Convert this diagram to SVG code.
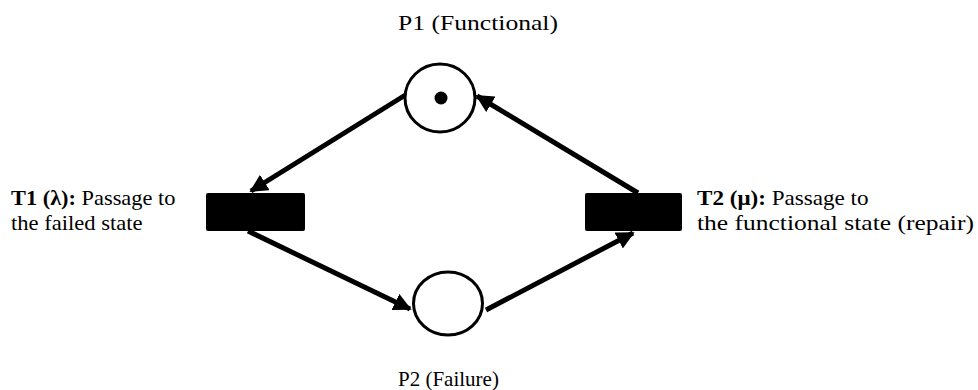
<svg xmlns="http://www.w3.org/2000/svg" width="978" height="390" viewBox="0 0 978 390">
  <style>
    text { font-family: 'Liberation Serif', 'Tinos', 'Noto Serif', 'DejaVu Serif', 'Nimbus Roman', 'FreeSerif', Times, serif; font-weight: 400; font-size: 21px; fill: #000; }
    .b { font-weight: 700; }
    .place { fill: #fff; stroke: #000; stroke-width: 3; }
    .trans { fill: #000; }
    .arc { fill: none; stroke: #000; stroke-width: 5; marker-end: url(#head); }
  </style>
  <defs>
    <marker id="head" viewBox="0 0 10 10" refX="9" refY="5" markerWidth="3.6" markerHeight="3.6" markerUnits="strokeWidth" orient="auto">
      <path d="M0,0 L10,5 L0,10 z" fill="#000"/>
    </marker>
  </defs>

  <!-- arcs of the net -->
  <g id="connectors">
    <line class="arc" x1="407" y1="94" x2="251" y2="191"/>
    <line class="arc" x1="248" y1="231" x2="410" y2="309"/>
    <line class="arc" x1="486" y1="310" x2="633" y2="233"/>
    <line class="arc" x1="638" y1="193" x2="477" y2="96"/>
  </g>

  <!-- places (labels widened horizontally) -->
  <g id="P1">
    <ellipse class="place" cx="440" cy="98" rx="35" ry="34"/>
    <circle cx="441" cy="98" r="6.5" fill="#000"/>
    <text transform="translate(398 30) scale(1.22 1)">P1 (Functional)</text>
  </g>

  <g id="P2">
    <ellipse class="place" cx="448" cy="303.5" rx="34.5" ry="31.5"/>
    <text x="398" y="386">P2 (Failure)</text>
  </g>

  <!-- transitions -->
  <g id="T1">
    <rect class="trans" x="206" y="193" width="99" height="38" rx="2"/>
    <text transform="translate(11 205) scale(1.065 1)"><tspan class="b">T1 (λ):</tspan> Passage to</text>
    <text transform="translate(11 230) scale(1.075 1)">the failed state</text>
  </g>

  <g id="T2">
    <rect class="trans" x="585" y="193" width="97" height="38" rx="2"/>
    <text transform="translate(697 205) scale(1.1 1)"><tspan class="b">T2 (μ):</tspan> Passage to</text>
    <text transform="translate(697 230) scale(1.215 1)">the functional state (repair)</text>
  </g>
</svg>
